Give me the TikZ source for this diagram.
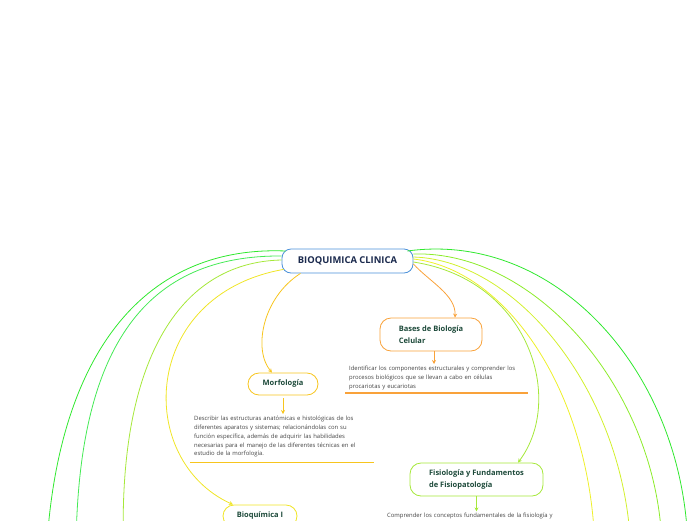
\documentclass[tikz,border=0pt]{standalone}
\usepackage{fontspec}
\setmainfont{Open Sans}
\usetikzlibrary{positioning,arrows.meta}
\definecolor{rootblue}{HTML}{4A90D9}
\definecolor{rootink}{HTML}{1B2A4E}
\definecolor{topicink}{HTML}{1D4A3A}
\definecolor{descink}{HTML}{444444}
\definecolor{cOrange}{HTML}{F9A23A}
\definecolor{cGold}{HTML}{F7C51E}
\definecolor{cYellow}{HTML}{EEF02A}
\definecolor{cYelLime}{HTML}{D2F02C}
\definecolor{cLime}{HTML}{A6E83A}
\definecolor{cGreen}{HTML}{8CEC2A}
\definecolor{cTeal}{HTML}{44EA55}
\definecolor{cBright}{HTML}{30E82E}
\tikzset{
  root/.style={draw=rootblue,fill=white,line width=0.8pt,rounded corners=9pt,minimum width=131pt,minimum height=24pt,font=\fontsize{9.4}{11}\selectfont\bfseries,text=rootink},
  topic/.style={fill=white,line width=0.8pt,rounded corners=11pt,align=left,font=\fontsize{7.5}{12}\selectfont\bfseries,text=topicink},
  desc/.style={align=left,anchor=north west,inner xsep=4pt,inner ysep=2pt,font=\fontsize{5.9}{8.8}\selectfont,text=descink},
  link/.style={line width=0.8pt},
  arr/.style={link,-{Stealth[length=4pt,width=4pt]}},
  uline/.style={line width=1.6pt}
}

\begin{document}
\begin{tikzpicture}[x=1pt,y=-1pt]
  \useasboundingbox (0,0) rectangle (696,520);
  \clip (0,0) rectangle (696,520);
  % central topic and subtopics
  \node[root] (root) at (347.5,261) {BIOQUIMICA CLINICA};
  \node[topic,draw=cOrange,minimum width=102pt,minimum height=33pt] (bases) at (431,334.5) {Bases de Biología\\Celular};
  \node[topic,draw=cGold,minimum width=70pt,minimum height=22pt] (morf) at (283,384) {Morfología};
  \node[topic,draw=cLime,minimum width=133pt,minimum height=33pt] (fisio) at (476.5,479.5) {Fisiología y Fundamentos\\de Fisiopatología};
  \node[topic,draw=cYellow!90!orange,minimum width=74pt,minimum height=22pt] (bioq) at (260,516) {Bioquímica I};
  % descriptions
  \node[desc,text width=175pt] (basesdesc) at (345,364) {Identificar los componentes estructurales y comprender los\\procesos biológicos que se llevan a cabo en células\\procariotas y eucariotas};
  \node[desc,text width=176pt] (morfdesc) at (190,414) {Describir las estructuras anatómicas e histológicas de los\\diferentes aparatos y sistemas; relacionándolas con su\\función específica, además de adquirir las habilidades\\necesarias para el manejo de las diferentes técnicas en el\\estudio de la morfología.};
  \node[desc,text width=176pt] (fisiodesc) at (383,511) {Comprender los conceptos fundamentales de la fisiología y};
  \draw[uline,cOrange] ([yshift=-1pt]basesdesc.south west) -- ([yshift=-1pt]basesdesc.south east);
  \draw[uline,cGold] ([yshift=-3pt]morfdesc.south west) -- ([yshift=-3pt]morfdesc.south east);
  % short arrows to descriptions
  \draw[arr,cOrange] ([xshift=3pt]bases.south) -- ([xshift=3pt]bases.south |- basesdesc.north);
  \draw[arr,cGold] ([yshift=-3pt]morf.south) -- (morf.south |- morfdesc.north);
  \draw[arr,cLime] (fisio.south) -- ++(0,15);
  % branches to subtopics
  \draw[arr,cOrange] ([yshift=-3pt]root.east) .. controls (430,282) and (456,295) .. ([xshift=24pt]bases.north);
  \draw[arr,cGold] ([xshift=-47pt]root.south) .. controls (262,298) and (253,350) .. ([xshift=-11pt]morf.north);
  \draw[arr,cLime] ([yshift=-1pt]root.east) .. controls (530,280) and (565,400) .. ([xshift=41.5pt]fisio.north);
  \draw[arr,cYellow!90!orange] ([xshift=-64pt,yshift=4pt]root.south) .. controls (140,295) and (135,460) .. ([xshift=-27pt]bioq.north);
  % branches leaving the page
  \coordinate (outL1) at (46,560);
  \coordinate (outL2) at (76,560);
  \coordinate (outL3) at (124,560);
  \coordinate (outR1) at (688,560);
  \coordinate (outR2) at (662,560);
  \coordinate (outR3) at (631,560);
  \coordinate (outR4) at (595,560);
  \draw[link,cBright] ([xshift=4pt,yshift=10pt]root.west) .. controls (140,245) and (55,360) .. (outL1);
  \draw[link,cTeal] ([yshift=5pt]root.west) .. controls (150,255) and (75,340) .. (outL2);
  \draw[link,cLime] ([yshift=1pt]root.west) .. controls (180,262) and (115,360) .. (outL3);
  \draw[link,cBright] ([xshift=-6pt,yshift=10pt]root.east) .. controls (560,230) and (690,380) .. (outR1);
  \draw[link,cGreen] ([yshift=7pt]root.east) .. controls (540,250) and (665,400) .. (outR2);
  \draw[link,cYelLime] ([yshift=4pt]root.east) .. controls (520,260) and (630,400) .. (outR3);
  \draw[link,cYellow] ([yshift=2pt]root.east) .. controls (510,270) and (595,400) .. (outR4);
\end{tikzpicture}
\end{document}
